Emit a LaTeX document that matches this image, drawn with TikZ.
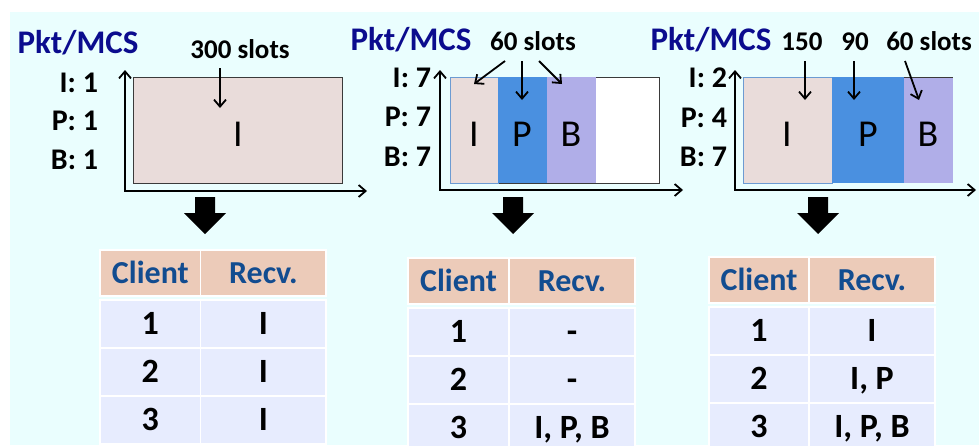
\documentclass[tikz,border=0pt]{standalone}
\usepackage{fontspec}
\setmainfont{Carlito}
\usetikzlibrary{arrows.meta}

\definecolor{bgcyan}{HTML}{EAFEFE}
\definecolor{navy}{HTML}{0B0C8E}
\definecolor{hdrblue}{HTML}{124C90}
\definecolor{hdrfill}{HTML}{ECCBB9}
\definecolor{rowfill}{HTML}{E7ECFE}
\definecolor{ifill}{HTML}{E9DCDA}
\definecolor{pfill}{HTML}{4A90E0}
\definecolor{bfill}{HTML}{B0AEE8}
\definecolor{segedge}{HTML}{6C9BD2}
\definecolor{boxedge}{HTML}{3A3A3A}

\tikzset{
  txt/.style={inner sep=0pt, outer sep=0pt, text depth=0pt},
  pktlbl/.style={txt, text=navy, font=\bfseries\fontsize{33}{33}\selectfont, anchor=base},
  mcs/.style={txt, font=\bfseries\fontsize{30}{30}\selectfont, anchor=base east},
  slotlbl/.style={txt, font=\bfseries\fontsize{27}{27}\selectfont, anchor=base},
  seglbl/.style={txt, font=\fontsize{38}{38}\selectfont, text height=24.5pt},
  seg/.style={inner sep=0pt, outer sep=0pt, anchor=north west, minimum height=106pt},
  axis/.style={line width=1.8pt, {Straight Barb[length=7pt,width=12pt]}-{Straight Barb[length=7pt,width=12pt]}},
  ptr/.style={line width=1.8pt, -{Straight Barb[length=7pt,width=12pt]}},
  cell/.style={inner sep=0pt, outer sep=0pt, anchor=north west, draw=white, line width=1.2pt,
    text depth=0pt},
  hcell/.style={cell, fill=hdrfill, text=hdrblue, minimum height=46pt, text height=20.6pt,
    font=\bfseries\fontsize{32}{32}\selectfont},
  rcell/.style={cell, fill=rowfill, text=black, minimum height=48pt, text height=21.8pt,
    font=\bfseries\fontsize{34}{34}\selectfont},
}

% header row of a client table: name, left, split, right, top
\newcommand\thead[5]{%
  \pgfmathsetmacro\cwa{#3-#2}\pgfmathsetmacro\cwb{#4-#3}%
  \node[hcell, minimum width=\cwa pt] (#1a) at (#2,#5) {Client};
  \node[hcell, minimum width=\cwb pt] (#1b) at (#3,#5) {Recv.};
}
% body row of a client table: name, left, split, right, top, client, received
\newcommand\trow[7]{%
  \pgfmathsetmacro\cwa{#3-#2}\pgfmathsetmacro\cwb{#4-#3}%
  \node[rcell, minimum width=\cwa pt] (#1a) at (#2,#5) {#6};
  \node[rcell, minimum width=\cwb pt] (#1b) at (#3,#5) {#7};
}
% solid block arrow pointing down, centred on x = #1
\newcommand\blockdown[1]{%
  \fill[black] (#1-10,197) -- (#1+10,197) -- (#1+10,213) -- (#1+21,213)
    -- (#1,234) -- (#1-21,213) -- (#1-10,213) -- cycle;
}

\begin{document}
\begin{tikzpicture}[x=1pt, y=-1pt]
\useasboundingbox (0,0) rectangle (979,445);
\fill[bgcyan] (10,12) rectangle (979,445);

% ---------- panel 1: one MCS for all frames ----------
\node[pktlbl] (pk1) at (78,53) {Pkt/MCS};
\node[mcs] (m1i) at (98,92) {I: 1};
\node[mcs] (m1p) at (98,130) {P: 1};
\node[mcs] (m1b) at (98,169) {B: 1};
\node[seg, minimum width=209pt, fill=ifill, draw=boxedge, line width=0.8pt] (b1) at (133,77) {};
\node[seglbl] (b1l) at (238,134) {I};
\coordinate (a1t) at (125,70);
\coordinate (a1o) at (125,191);
\coordinate (a1r) at (367,191);
\draw[axis] (a1t) -- (a1o) -- (a1r);
\node[slotlbl] (s1) at (240,58) {300 slots};
\coordinate (s1f) at (220,68);
\coordinate (s1t) at (220,108);
\draw[ptr] (s1f) -- (s1t);
\blockdown{205}

\thead{t1h}{100}{200.7}{326}{250}
\trow{t1r1}{100}{200.7}{326}{300}{1}{I}
\trow{t1r2}{100}{200.7}{326}{348}{2}{I}
\trow{t1r3}{100}{200.7}{326}{396}{3}{I}

% ---------- panel 2: MCS 7 for every frame ----------
\node[pktlbl] (pk2) at (411,50) {Pkt/MCS};
\node[mcs] (m2i) at (431,87) {I: 7};
\node[mcs] (m2p) at (431,126) {P: 7};
\node[mcs] (m2b) at (431,166) {B: 7};
\node[seg, minimum width=209pt, fill=white, draw=boxedge, line width=0.8pt] (b2) at (450,77) {};
\node[seg, minimum width=48pt, fill=ifill, draw=segedge, line width=0.8pt] (b2i) at (450,77) {};
\node[seg, minimum width=49pt, fill=pfill] (b2p) at (498,77) {};
\node[seg, minimum width=49pt, fill=bfill] (b2b) at (547,77) {};
\node[seglbl] (b2il) at (474,134) {I};
\node[seglbl] (b2pl) at (522,134) {P};
\node[seglbl] (b2bl) at (571,134) {B};
\coordinate (a2t) at (440,70);
\coordinate (a2o) at (440,190);
\coordinate (a2r) at (683,190);
\draw[axis] (a2t) -- (a2o) -- (a2r);
\node[slotlbl] (s2) at (533,50) {60 slots};
\coordinate (s2a) at (505,61);
\coordinate (s2b) at (522,61);
\coordinate (s2c) at (539,61);
\coordinate (s2it) at (474,84);
\coordinate (s2pt) at (522,100);
\coordinate (s2bt) at (562,84);
\draw[ptr] (s2a) -- (s2it);
\draw[ptr] (s2b) -- (s2pt);
\draw[ptr] (s2c) -- (s2bt);
\blockdown{513}

\thead{t2h}{408}{509}{635}{258}
\trow{t2r1}{408}{509}{635}{308}{1}{-}
\trow{t2r2}{408}{509}{635}{356}{2}{-}
\trow{t2r3}{408}{509}{635}{404}{3}{I, P, B}

% ---------- panel 3: per-frame MCS ----------
\node[pktlbl] (pk3) at (711,50) {Pkt/MCS};
\node[mcs] (m3i) at (727,87) {I: 2};
\node[mcs] (m3p) at (727,127) {P: 4};
\node[mcs] (m3b) at (727,166) {B: 7};
\node[seg, minimum width=89pt, fill=ifill, draw=segedge, line width=0.8pt] (b3i) at (743,77) {};
\node[seg, minimum width=72pt, fill=pfill] (b3p) at (832,77) {};
\node[seg, minimum width=49pt, fill=bfill] (b3b) at (904,77) {};
\draw[boxedge, line width=0.8pt] (b3b.north west) -- (b3b.north east);
\node[seglbl] (b3il) at (787,134) {I};
\node[seglbl] (b3pl) at (868,134) {P};
\node[seglbl] (b3bl) at (928,134) {B};
\coordinate (a3t) at (735,70);
\coordinate (a3o) at (735,190);
\coordinate (a3r) at (976,190);
\draw[axis] (a3t) -- (a3o) -- (a3r);
\node[slotlbl] (s3a) at (802,50) {150};
\node[slotlbl] (s3b) at (855,50) {90};
\node[slotlbl] (s3c) at (929,50) {60 slots};
\coordinate (s3af) at (805,61);
\coordinate (s3bf) at (854,61);
\coordinate (s3cf) at (905,61);
\coordinate (s3at) at (805,100);
\coordinate (s3bt) at (854,100);
\coordinate (s3ct) at (919,100);
\draw[ptr] (s3af) -- (s3at);
\draw[ptr] (s3bf) -- (s3bt);
\draw[ptr] (s3cf) -- (s3ct);
\blockdown{818}

\thead{t3h}{709}{809}{935}{257}
\trow{t3r1}{709}{809}{935}{307}{1}{I}
\trow{t3r2}{709}{809}{935}{355}{2}{I, P}
\trow{t3r3}{709}{809}{935}{403}{3}{I, P, B}
\end{tikzpicture}
\end{document}
